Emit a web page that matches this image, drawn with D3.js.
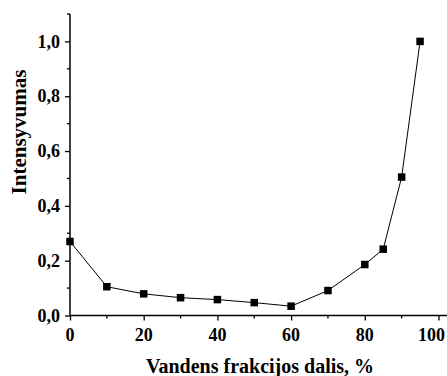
<!DOCTYPE html>
<html><head><meta charset="utf-8">
<script src="https://cdn.jsdelivr.net/npm/d3@7"></script>
<style>body{margin:0;background:#fff}svg{display:block}</style>
</head><body><svg id="c" width="447" height="376"></svg>
<script>
const xValues = [0, 10, 20, 30, 40, 50, 60, 70, 80, 85, 90, 95];
const yValues = [0.27, 0.105, 0.079, 0.065, 0.058, 0.047, 0.034, 0.091, 0.186, 0.242, 0.505, 1.0];
const xMajorTicks = [0, 20, 40, 60, 80, 100];
const xMinorTicks = [10, 30, 50, 70, 90];
const yMajorTicks = [0, 0.2, 0.4, 0.6, 0.8, 1.0];
const yMinorTicks = [0.1, 0.3, 0.5, 0.7, 0.9, 1.1];
const xTitle = "Vandens frakcijos dalis, %";
const yTitle = "Intensyvumas";

const FONT = "Liberation Serif, Times New Roman, serif";
const W = 447;
const svg = d3.select("#c");
const x = d3.scaleLinear().domain([0, 100]).range([70, 438.5]);
const y = d3.scaleLinear().domain([0, 1.1]).range([315.5, 14]);
const fmt = d => d3.format(".1f")(d).replace(".", ",");

// x axis ticks
const gx = svg.append("g").attr("transform", "translate(0,315.5)");
gx.call(d3.axisBottom(x).tickValues(xMajorTicks).tickSize(5).tickSizeOuter(0).tickFormat(""));
gx.select(".domain").remove();
gx.selectAll(".tick line").attr("stroke-width", 1.3);
gx.append("line").attr("x1", 70).attr("x2", W).attr("stroke", "#000").attr("stroke-width", 1.5);
gx.selectAll("line.minor").data(xMinorTicks).enter().append("line").attr("class", "minor")
  .attr("x1", d => x(d)).attr("x2", d => x(d)).attr("y1", 0).attr("y2", 3)
  .attr("stroke", "#000").attr("stroke-width", 1.3);

// y axis ticks
const gy = svg.append("g").attr("transform", "translate(70,0)");
gy.call(d3.axisLeft(y).tickValues(yMajorTicks).tickSize(5).tickSizeOuter(0).tickFormat(""));
gy.select(".domain").remove();
gy.selectAll(".tick line").attr("stroke-width", 1.3);
gy.append("line").attr("y1", 14).attr("y2", 316).attr("stroke", "#000").attr("stroke-width", 1.5);
gy.selectAll("line.minor").data(yMinorTicks).enter().append("line").attr("class", "minor")
  .attr("y1", d => y(d)).attr("y2", d => y(d)).attr("x1", 0).attr("x2", -3)
  .attr("stroke", "#000").attr("stroke-width", 1.3);

// tick labels
svg.append("g").selectAll("text").data(xMajorTicks).enter().append("text")
  .attr("x", d => x(d)).attr("y", 341).attr("text-anchor", "middle")
  .attr("font-family", FONT).attr("font-weight", "bold").attr("font-size", 18).attr("fill", "#000")
  .text(d => d)
  .each(function () {
    const w = this.getComputedTextLength();
    const cx = +this.getAttribute("x");
    if (cx + w / 2 > W - 2) this.setAttribute("x", W - 2 - w / 2);
  });
svg.append("g").selectAll("text").data(yMajorTicks).enter().append("text")
  .attr("x", 60).attr("y", d => y(d)).attr("dy", "0.34em").attr("text-anchor", "end")
  .attr("font-family", FONT).attr("font-weight", "bold").attr("font-size", 18).attr("fill", "#000")
  .text(fmt);

// line
const data = xValues.map((v, i) => [v, yValues[i]]);
svg.append("path").datum(data)
  .attr("d", d3.line().x(d => x(d[0])).y(d => y(d[1])))
  .attr("fill", "none").attr("stroke", "#000").attr("stroke-width", 1);

const s = 7.5;
svg.selectAll("rect.pt").data(data).enter().append("rect").attr("class", "pt")
  .attr("x", d => x(d[0]) - s / 2).attr("y", d => y(d[1]) - s / 2)
  .attr("width", s).attr("height", s).attr("fill", "#000");

// titles
svg.append("text").attr("x", 260).attr("y", 373).attr("text-anchor", "middle")
  .attr("font-family", FONT).attr("font-weight", "bold").attr("font-size", 20).text(xTitle);
svg.append("text").attr("transform", "translate(26,132) rotate(-90)").attr("text-anchor", "middle")
  .attr("font-family", FONT).attr("font-weight", "bold").attr("font-size", 21).text(yTitle);
</script></body></html>
